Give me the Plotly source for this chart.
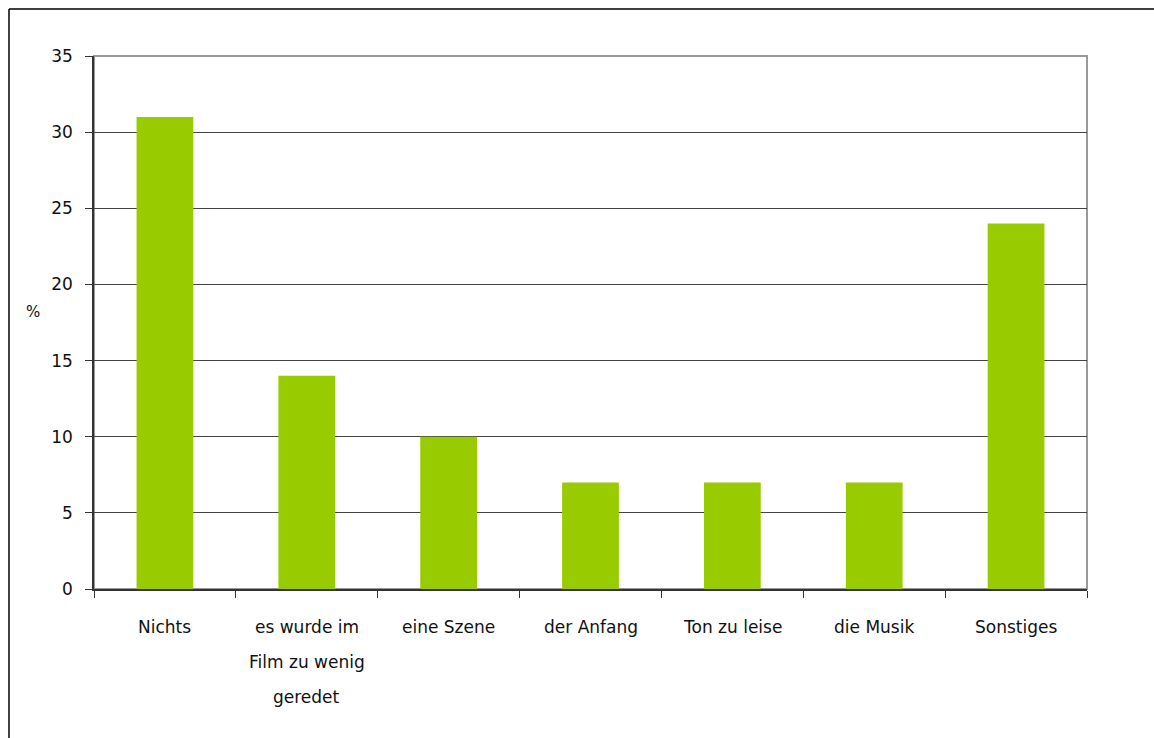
import plotly.graph_objects as go

categories = ["Nichts", "es wurde im Film zu wenig geredet", "eine Szene", "der Anfang",
              "Ton zu leise", "die Musik", "Sonstiges"]
label_lines = [["Nichts"], ["es wurde im", "Film zu wenig", "geredet"], ["eine Szene"],
               ["der Anfang"], ["Ton zu leise"], ["die Musik"], ["Sonstiges"]]
values = [31, 14, 10, 7, 7, 7, 24]
y_ticks = [0, 5, 10, 15, 20, 25, 30, 35]

W, H = 1154, 738
L, T = 94, 56
pw, ph = 993, 533
R, B = W - L - pw, H - T - ph
FONT = "DejaVu Sans"
FS = 17

fig = go.Figure(go.Bar(x=categories, y=values, marker_color="#99CC00",
                       marker_line_width=0, width=0.4))

annotations = []
for cat, lines in zip(categories, label_lines):
    for i, line in enumerate(lines):
        annotations.append(dict(x=cat, xref="x", y=0, yref="paper", text=line,
                                showarrow=False, yanchor="middle", xanchor="center",
                                yshift=-(38 + i * 35),
                                font=dict(family=FONT, size=FS, color="#111")))
annotations.append(dict(x=-(94 - 33) / pw, xref="paper", y=(589 - 312) / ph, yref="paper",
                        text="%", showarrow=False, xanchor="center", yanchor="middle",
                        font=dict(family=FONT, size=FS - 2, color="#111")))

bx = -(94 - 9) / pw
by = (589 - 9) / ph
shapes = [
    dict(type="rect", xref="paper", yref="paper", x0=0, x1=1, y0=0, y1=1,
         line=dict(color="#999999", width=2), layer="below"),
    dict(type="line", xref="paper", yref="paper", x0=bx, x1=bx,
         y0=by, y1=-(B + 20) / ph, line=dict(color="#000", width=1.5)),
    dict(type="line", xref="paper", yref="paper", x0=bx, x1=(W + 20 - L) / pw,
         y0=by, y1=by, line=dict(color="#000", width=1.5)),
]

fig.update_layout(
    width=W, height=H, margin=dict(l=L, r=R, t=T, b=B),
    paper_bgcolor="white", plot_bgcolor="white", showlegend=False,
    font=dict(family=FONT, size=FS, color="#111"),
    annotations=annotations, shapes=shapes,
    xaxis=dict(type="category", tickson="boundaries", ticks="outside", ticklen=7,
               tickcolor="#333", showticklabels=False, showgrid=False,
               showline=True, linecolor="#333", linewidth=1.5, zeroline=False),
    yaxis=dict(range=[0, 35], tickvals=y_ticks, ticks="outside", ticklen=7,
               tickcolor="#333", showgrid=True, gridcolor="#444", gridwidth=1,
               showline=True, linecolor="#333", linewidth=1.5, zeroline=False,
               tickfont=dict(family=FONT, size=FS, color="#111"), ticklabelstandoff=9),
)

fig.write_html("out.html", config={"displayModeBar": False},
               post_script="document.body.style.margin='0';document.body.style.overflow='hidden';")
